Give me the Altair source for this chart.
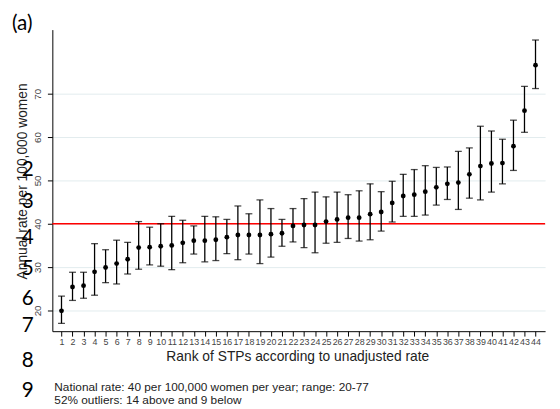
import altair as alt
import pandas as pd

rank = list(range(1, 45))
rate = [19.9, 25.4, 25.7, 28.9, 29.9, 30.8, 31.8, 34.5, 34.6, 34.8,
        35.0, 35.6, 36.1, 36.1, 36.3, 36.9, 37.4, 37.4, 37.4, 37.6,
        37.8, 39.5, 39.7, 39.7, 40.5, 41.0, 41.4, 41.4, 42.2, 42.7,
        44.8, 46.4, 46.7, 47.4, 48.4, 49.2, 49.5, 51.4, 53.3, 53.9,
        54.0, 57.9, 66.1, 76.6]
lower = [17.0, 22.3, 22.8, 23.5, 26.4, 26.1, 28.4, 29.5, 30.5, 30.2,
         29.4, 31.0, 33.0, 31.2, 31.5, 33.1, 31.7, 33.0, 30.8, 32.3,
         34.8, 35.8, 34.5, 33.3, 35.5, 35.7, 36.6, 36.0, 36.3, 38.3,
         40.4, 41.7, 41.7, 42.0, 44.3, 45.6, 43.3, 45.9, 45.5, 47.3,
         49.2, 52.3, 61.1, 71.2]
upper = [23.3, 28.8, 28.8, 35.4, 34.0, 36.2, 35.7, 40.5, 39.2, 40.0,
         41.7, 40.8, 39.5, 41.7, 41.6, 41.0, 44.1, 42.3, 45.5, 43.5,
         41.0, 43.5, 45.8, 47.3, 46.2, 47.3, 46.7, 47.6, 49.2, 47.4,
         49.8, 51.4, 52.5, 53.4, 53.0, 53.1, 56.7, 57.5, 62.5, 61.4,
         59.5, 63.9, 71.7, 82.4]
national = [40]
y_ticks = [20, 30, 40, 50, 60, 70]
panel_label = "(a)"
y_title = "Annual rate per 100,000 women"
x_title = "Rank of STPs according to unadjusted rate"
footer = ["National rate: 40 per 100,000 women per year; range: 20-77",
          "52% outliers: 14 above and 9 below"]
line_numbers = ["2", "3", "4", "5", "6", "7", "8", "9"]

df = pd.DataFrame({"rank": rank, "rate": rate, "lo": lower, "hi": upper})

FONT = "Liberation Sans"

xscale = alt.Scale(domain=[0.17, 44.87], nice=False, zero=False)
yscale = alt.Scale(domain=[15.2, 84.8], nice=False, zero=False)

xaxis = alt.Axis(values=rank, title=None, grid=False, tickSize=5,
                 labelPadding=2, labelFontSize=9, labelColor="#444",
                 labelFont=FONT, domainColor="black", tickColor="black",
                 labelAngle=0, labelOverlap=False, labelFlush=False,
                 labelSeparation=0)
yaxis = alt.Axis(values=y_ticks, title=None, grid=True, gridColor="#e2ecee",
                 tickSize=5, labelPadding=5, labelFontSize=10,
                 labelColor="#444", labelFont=FONT, labelAngle=270,
                 labelAlign="center", labelBaseline="bottom",
                 domainColor="black", tickColor="black", labelOverlap=False)

X = lambda f: alt.X(f, type="quantitative", scale=xscale, axis=xaxis)
Y = lambda f: alt.Y(f, type="quantitative", scale=yscale, axis=yaxis)

base = alt.Chart(df)

ref = alt.Chart(pd.DataFrame({"y": national})).mark_rule(
    color="#ff0000", strokeWidth=1.5
).encode(y=Y("y"))

bars = base.mark_rule(color="black", strokeWidth=1.3).encode(
    x=X("rank"), y=Y("lo"), y2="hi:Q")
cap_lo = base.mark_tick(color="black", orient="horizontal", size=7,
                        thickness=1.3).encode(x=X("rank"), y=Y("lo"))
cap_hi = base.mark_tick(color="black", orient="horizontal", size=7,
                        thickness=1.3).encode(x=X("rank"), y=Y("hi"))
pts = base.mark_point(filled=True, color="black", size=24, opacity=1).encode(
    x=X("rank"), y=Y("rate"))


def label(txt, x, y, size, font=FONT, align="left", baseline="alphabetic",
          angle=0, color="black"):
    kw = dict(align=align, baseline=baseline, fontSize=size, font=font,
              color=color)
    if angle:
        kw["angle"] = angle
    return alt.Chart(pd.DataFrame({"t": [txt]})).mark_text(**kw).encode(
        text="t:N", x=alt.value(x), y=alt.value(y))


texts = [
    label(panel_label, -41, 0, 21, font="Lato"),
    label(y_title, -30, 154, 14, align="center", baseline="middle",
          angle=270, color="#222"),
    label(x_title, 249, 332, 14, align="center", baseline="middle",
          color="#222"),
    label(footer[0], 2, 367, 12, color="#222"),
    label(footer[1], 2, 380, 12, color="#222"),
]
ln_y = [170, 202, 239, 270, 300, 328, 363, 394]
for d, yy in zip(line_numbers, ln_y):
    texts.append(label(d, -25, yy - 27, 21, font="Lato", align="center",
                       baseline="middle"))

chart = alt.layer(ref, bars, cap_lo, cap_hi, pts, *texts).properties(
    width=500, height=306,
    autosize=alt.AutoSizeParams(type="none"),
    padding={"left": 45, "top": 19, "right": 7, "bottom": 75},
).configure_view(stroke=None).configure_axis(labelOverlap=False)

chart.save("out.html", embed_options={"renderer": "svg", "actions": False})
